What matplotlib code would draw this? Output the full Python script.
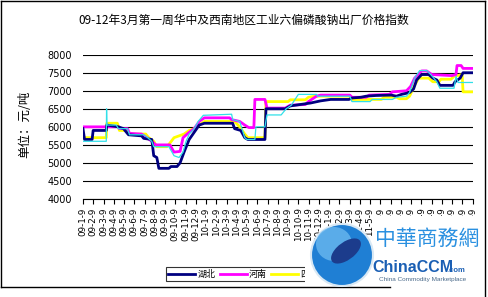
import matplotlib
matplotlib.use("Agg")
import matplotlib.pyplot as plt
from matplotlib.patches import Rectangle, Ellipse
from matplotlib.lines import Line2D

# =====================================
# Data (month index: 0 = 09-1-9)
# =====================================
tick_labels = ["09-%d-9" % m for m in range(1, 13)] + \
              ["10-%d-9" % m for m in range(1, 13)] + \
              ["11-%d-9" % m for m in range(1, 13)] + \
              ["12-%d-9" % m for m in range(1, 4)]

series_names = ["湖北", "河南", "四川", "云南"]

hubei_x = [0, 0.15, 0.89, 0.99, 2.27, 2.32, 3.45, 3.95, 4.44, 5.72, 5.92, 6.71, 6.9, 7.2, 7.4,
           8.38, 8.58, 9.17, 9.47, 9.86, 10.36, 10.85, 11.34, 11.84, 14.6, 14.79, 15.39, 15.78,
           16.08, 17.75, 17.85, 19.73, 20.22, 21.21, 22.19, 23.18, 24.16, 25.94, 26.24, 27.12,
           27.62, 28.6, 30.08, 30.58, 31.07, 31.86, 32.25, 32.55, 33.04, 33.73, 34.13, 34.52,
           34.82, 36.1, 36.3, 36.79, 37.08, 38]
hubei_y = [5950, 5650, 5650, 5900, 5900, 6050, 6000, 5950, 5780, 5750, 5680, 5650, 5200, 5150, 4850,
           4850, 4900, 4900, 5000, 5300, 5650, 5850, 6050, 6100, 6100, 5950, 5900, 5700,
           5650, 5650, 6500, 6500, 6580, 6620, 6660, 6720, 6760, 6760, 6800, 6820,
           6850, 6870, 6880, 6850, 6900, 6950, 7050, 7300, 7450, 7450, 7350, 7300,
           7150, 7150, 7250, 7350, 7500, 7500]

henan_x = [0, 3.45, 3.55, 4.34, 4.54, 5.72, 6.21, 6.71, 7.1, 8.48, 8.68, 8.88, 9.47, 9.76, 10.36,
           10.85, 11.34, 11.84, 14.3, 14.5, 15.29, 15.78, 16.18, 16.67, 16.77, 17.75, 17.95,
           19.73, 20.22, 21.7, 21.99, 22.78, 23.18, 26.04, 26.24, 27.62, 27.91, 29.89, 30.18,
           31.56, 31.96, 32.35, 33.04, 33.53, 34.03, 36.0, 36.39, 36.49, 36.89, 37.08, 38]
henan_y = [6000, 6000, 5950, 5950, 5820, 5800, 5700, 5600, 5500, 5500, 5400, 5300, 5320, 5700, 5850,
           5950, 6150, 6250, 6250, 6200, 6150, 6050, 5980, 5980, 6760, 6760, 6520,
           6520, 6600, 6620, 6700, 6850, 6880, 6880, 6820, 6820, 6880, 6900, 6970,
           7000, 7120, 7350, 7550, 7550, 7450, 7420, 7450, 7700, 7700, 7620, 7620]

sichuan_x = [0, 2.27, 2.32, 3.35, 3.55, 4.34, 4.54, 6.12, 6.41, 6.9, 7.2, 8.19, 8.48, 8.88, 9.37,
             9.86, 10.36, 10.85, 11.34, 11.84, 14.79, 15.29, 15.78, 16.08, 17.75, 17.85, 20.02,
             20.22, 21.7, 21.99, 22.68, 26.04, 26.24, 29.1, 29.39, 30.58, 30.87, 31.56, 31.86,
             32.35, 32.75, 33.73, 34.13, 34.72, 34.92, 35.9, 36.2, 36.99, 37.08, 38]
sichuan_y = [5700, 5700, 6100, 6100, 5900, 5900, 5800, 5800, 5700, 5600, 5450, 5450, 5550, 5700, 5750,
             5800, 5900, 5950, 6050, 6150, 6150, 6000, 5800, 5700, 5700, 6700, 6700,
             6750, 6750, 6820, 6850, 6850, 6760, 6760, 6820, 6820, 6780, 6780, 6850,
             7150, 7350, 7350, 7250, 7250, 7320, 7320, 7400, 7450, 6970, 6970]

yunnan_x = [0, 2.27, 2.3, 2.34, 3.25, 3.45, 4.34, 4.54, 5.92, 6.31, 6.71, 6.9, 8.38, 8.68, 8.88,
            9.37, 9.76, 10.06, 10.36, 10.85, 11.24, 11.74, 14.5, 14.6, 15.29, 15.78, 15.98,
            16.77, 16.87, 17.75, 17.95, 19.33, 19.82, 20.32, 21.01, 22.78, 22.88, 26.04, 26.24,
            28.01, 28.21, 30.18, 30.58, 31.56, 31.86, 32.35, 32.84, 33.53, 33.93, 34.52, 34.82,
            36.2, 36.39, 36.59, 38]
yunnan_y = [5600, 5600, 6500, 6050, 6050, 5950, 5950, 5780, 5780, 5700, 5600, 5450, 5450, 5300, 5200,
            5150, 5300, 5600, 5800, 5950, 6150, 6320, 6350, 6200, 6150, 5700, 5650,
            5650, 6000, 6000, 6330, 6330, 6500, 6600, 6900, 6900, 6850, 6850, 6700,
            6700, 6760, 6760, 6820, 6850, 6950, 7350, 7560, 7560, 7450, 7250, 7070,
            7070, 7400, 7230, 7230]

W, H = 488, 297


def fx(px):
    return px / W


def fy(py):
    return 1 - py / H


cjk = ["Noto Sans CJK SC", "DejaVu Sans"]

# =====================================
# Figure
# =====================================
fig = plt.figure(figsize=(W / 100, H / 100), dpi=100)
fig.patch.set_facecolor("white")

ax = fig.add_axes([fx(83), fy(199), (472.5 - 83) / W, (199 - 54.7) / H])

ax.plot(sichuan_x, sichuan_y, color="#FFFF00", lw=2.0, zorder=4)
ax.plot(henan_x, henan_y, color="#FF00FF", lw=2.0, zorder=5)
ax.plot(hubei_x, hubei_y, color="#000080", lw=2.0, zorder=6)
# cyan drawn last, thin, so it shows over the thick lines like the original
ax.plot(yunnan_x, yunnan_y, color="#30E0E8", lw=0.9, zorder=7)

ax.set_xlim(0, 38)
ax.set_ylim(4000, 8000)
ax.set_yticks(range(4000, 8001, 500))
ax.set_xticks(range(len(tick_labels)))
ax.set_xticklabels(tick_labels, rotation=90, fontsize=6.3, family="DejaVu Sans")
ax.tick_params(axis="x", length=3.5, width=0.8, direction="out", pad=2.5, color="black")
ax.tick_params(axis="y", length=0, pad=8, labelsize=7)
ax.yaxis.grid(True, color="black", lw=0.8)
ax.set_axisbelow(True)
for side in ["left", "right", "top"]:
    ax.spines[side].set_visible(False)
ax.spines["bottom"].set_linewidth(0.8)

fig.text(fx(243.5), fy(20), "09-12年3月第一周华中及西南地区工业六偏磷酸钠出厂价格指数",
         ha="center", va="center", fontsize=8.5, family=cjk)
fig.text(fx(25), fy(124), "单位：元/吨", rotation=90, ha="center", va="center",
         fontsize=9, family=cjk)

# legend
colors = ["#000080", "#FF00FF", "#FFFF00", "#30E0E8"]
widths = [2.0, 2.0, 2.0, 0.9]
handles = [Line2D([], [], color=c, lw=w) for c, w in zip(colors, widths)]
leg = fig.legend(handles, series_names, loc="lower left",
                 bbox_to_anchor=(fx(166), fy(281)), ncol=4, frameon=True, fancybox=False,
                 prop={"family": cjk, "size": 6.5}, handlelength=3.0, handletextpad=0.2,
                 columnspacing=0.5, borderpad=0.25, borderaxespad=0)
leg.get_frame().set_edgecolor("black")
leg.get_frame().set_linewidth(0.8)

# outer frame
fig.add_artist(Line2D([fx(1), fx(485)], [fy(1), fy(1)], color="black", lw=1.0))
fig.add_artist(Line2D([fx(1), fx(1)], [fy(1), fy(287)], color="black", lw=1.0))

# watermark logo
fig.add_artist(Rectangle((fx(372), fy(296)), fx(484) - fx(372), fy(216) - fy(296),
                         transform=fig.transFigure, facecolor="white", edgecolor="none", zorder=10))
fig.add_artist(Rectangle((fx(305), fy(296)), fx(372) - fx(305), fy(262) - fy(296),
                         transform=fig.transFigure, facecolor="white", edgecolor="none", zorder=10))
fig.add_artist(Line2D([fx(1), fx(390)], [fy(287), fy(287)], color="black", lw=1.0, zorder=10.5))
fig.add_artist(Line2D([fx(485), fx(485)], [fy(1), fy(296)], color="black", lw=1.0, zorder=11))
fig.add_artist(Ellipse((fx(342), fy(255)), 62 / W, 62 / H, transform=fig.transFigure,
                       facecolor="#1f7fd4", edgecolor="#d8e8f4", lw=1.5, zorder=11))
fig.add_artist(Ellipse((fx(334), fy(244)), 36 / W, 34 / H, transform=fig.transFigure,
                       facecolor="#6ab8ef", edgecolor="none", alpha=0.8, zorder=11))
fig.add_artist(Ellipse((fx(346), fy(251)), 22 / W, 28 / H, angle=-30, transform=fig.transFigure,
                       facecolor="#1c3c8c", edgecolor="none", zorder=12))
fig.text(fx(427), fy(239), "中華商務網", ha="center", va="center", fontsize=15,
         color="#2a90e0", family=["Noto Sans CJK TC", "DejaVu Sans"], zorder=13)
fig.text(fx(372), fy(267), "ChinaCCM", ha="left", va="center", fontsize=11.5, weight="bold",
         color="#1a5fb4", family="Liberation Sans", zorder=13)
fig.text(fx(447), fy(270), ".com", ha="left", va="center", fontsize=5.5, weight="bold",
         color="#1a5fb4", family="Liberation Sans", zorder=13)
fig.text(fx(423), fy(280), "China Commodity Marketplace", ha="center", va="center", fontsize=4.6,
         color="#4a6a8a", family="Liberation Sans", zorder=13)

fig.savefig("out.png", dpi=100)
